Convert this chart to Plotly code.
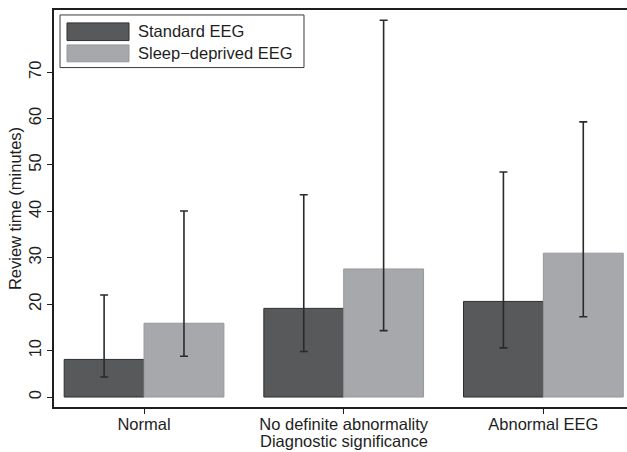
import plotly.graph_objects as go

categories = ["Normal", "No definite abnormality", "Abnormal EEG"]
series_names = ["Standard EEG", "Sleep\u2212deprived EEG"]
x_title = "Diagnostic significance"
y_title = "Review time (minutes)"

standard_mean = [8.1, 19.1, 20.6]
standard_lower = [4.3, 9.8, 10.6]
standard_upper = [22.0, 43.6, 48.5]

sleep_mean = [15.9, 27.6, 31.0]
sleep_lower = [8.8, 14.3, 17.3]
sleep_upper = [40.1, 81.2, 59.3]

y_ticks = [0, 10, 20, 30, 40, 50, 60, 70]

dark_fill = "#58595b"
dark_line = "#2e2e2e"
light_fill = "#a7a8ab"
light_line = "#97989b"
ink = "#1e1e1e"
FONT = "Liberation Sans, Arial, Helvetica, sans-serif"
FS = 16.5


def err(mean, lo, hi, color):
    return dict(
        type="data",
        symmetric=False,
        array=[h - m for h, m in zip(hi, mean)],
        arrayminus=[m - l for m, l in zip(mean, lo)],
        color=color,
        thickness=1.6,
        width=4,
    )


fig = go.Figure()
fig.add_trace(go.Bar(
    x=categories, y=standard_mean, name=series_names[0],
    marker=dict(color=dark_fill, line=dict(color=dark_line, width=1)),
    error_y=err(standard_mean, standard_lower, standard_upper, "#2a2a2a"),
))
fig.add_trace(go.Bar(
    x=categories, y=sleep_mean, name=series_names[1],
    marker=dict(color=light_fill, line=dict(color=light_line, width=1)),
    error_y=err(sleep_mean, sleep_lower, sleep_upper, "#2a2a2a"),
))

# custom legend (box, swatches, labels)
legend_shapes = [
    dict(type="rect", xref="paper", yref="paper", x0=0.0105, x1=0.4363, y0=0.855, y1=0.9875,
         line=dict(color="#3a3a3a", width=1), fillcolor="white"),
    dict(type="rect", xref="paper", yref="paper", x0=0.0227, x1=0.1309, y0=0.923, y1=0.9675,
         line=dict(color=dark_line, width=1), fillcolor=dark_fill),
    dict(type="rect", xref="paper", yref="paper", x0=0.0227, x1=0.1309, y0=0.8695, y1=0.912,
         line=dict(color=light_line, width=1), fillcolor=light_fill),
]
texts = [
    dict(xref="paper", yref="paper", x=0.143, y=0.946, text=series_names[0], showarrow=False,
         xanchor="left", yanchor="middle", font=dict(family=FONT, size=FS, color=ink)),
    dict(xref="paper", yref="paper", x=0.143, y=0.891, text=series_names[1], showarrow=False,
         xanchor="left", yanchor="middle", font=dict(family=FONT, size=FS, color=ink)),
    dict(xref="paper", yref="paper", x=(344 - 54) / 573, y=-(441 - 407) / 397, text=x_title,
         showarrow=False, xanchor="center", yanchor="middle",
         font=dict(family=FONT, size=FS, color=ink)),
]

fig.update_layout(
    width=627, height=452,
    margin=dict(l=54, r=0, t=10, b=45),
    paper_bgcolor="white", plot_bgcolor="white",
    barmode="group", bargap=0.2, bargroupgap=0,
    showlegend=False,
    font=dict(family=FONT, size=FS, color=ink),
    shapes=legend_shapes,
    annotations=texts,
    xaxis=dict(
        type="category", range=[-0.451, 2.419],
        showline=True, linecolor=ink, linewidth=1.5, mirror=True,
        ticks="outside", ticklen=5, tickcolor=ink, tickwidth=1,
        ticklabelstandoff=-4,
        showgrid=False, zeroline=False,
        tickfont=dict(family=FONT, size=FS, color=ink),
    ),
    yaxis=dict(
        range=[-2.15, 83.4],
        tickvals=y_ticks,
        showline=True, linecolor=ink, linewidth=1.5,
        ticks="outside", ticklen=5, tickcolor=ink, tickwidth=1,
        tickangle=-90, ticklabelstandoff=0,
        showgrid=False, zeroline=False,
        tickfont=dict(family=FONT, size=FS, color=ink),
        title=dict(text=y_title, standoff=0,
                   font=dict(family=FONT, size=FS, color=ink)),
    ),
)

fig.write_html("out.html")
